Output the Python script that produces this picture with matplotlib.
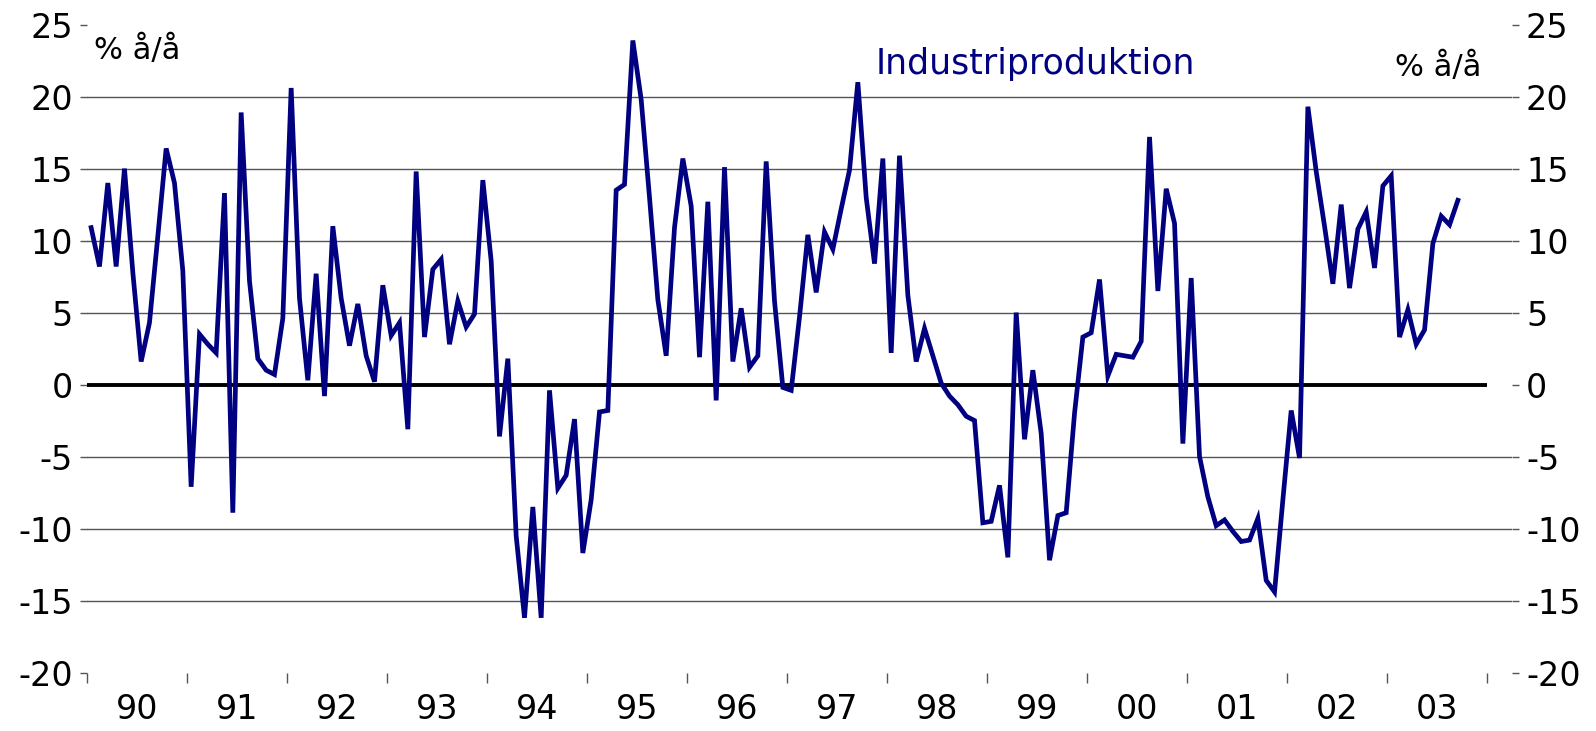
import numpy as np
import matplotlib
matplotlib.use("Agg")
import matplotlib.pyplot as plt

# industrial production, % y/y, monthly Jan 1990 - Sep 2003
prod = [
    10.9, 8.2, 14.0, 8.2, 15.0, 7.8, 1.6, 4.3, 10.3, 16.4, 14.0, 7.9,     # 90
    -7.1, 3.5, 2.8, 2.2, 13.3, -8.9, 18.9, 7.2, 1.8, 1.0, 0.7, 4.6,       # 91
    20.6, 6.0, 0.3, 7.7, -0.8, 11.0, 6.0, 2.7, 5.6, 2.0, 0.2, 6.9,        # 92
    3.4, 4.3, -3.1, 14.8, 3.3, 8.0, 8.7, 2.8, 5.8, 4.0, 4.9, 14.2,        # 93
    8.6, -3.6, 1.8, -10.5, -16.2, -8.5, -16.2, -0.4, -7.2, -6.3, -2.4, -11.7,  # 94
    -8.0, -1.9, -1.8, 13.5, 13.9, 23.9, 19.8, 13.0, 5.9, 2.0, 10.9, 15.7,  # 95
    12.4, 1.9, 12.7, -1.1, 15.1, 1.6, 5.3, 1.2, 2.0, 15.5, 5.8, -0.2,     # 96
    -0.4, 4.7, 10.4, 6.4, 10.6, 9.4, 12.2, 14.9, 21.0, 13.0, 8.4, 15.7,   # 97
    2.2, 15.9, 6.2, 1.6, 3.9, 2.0, 0.1, -0.8, -1.4, -2.2, -2.5, -9.6,     # 98
    -9.5, -7.0, -12.0, 5.0, -3.8, 1.0, -3.4, -12.2, -9.1, -8.9, -2.0, 3.3,  # 99
    3.6, 7.3, 0.6, 2.1, 2.0, 1.9, 3.0, 17.2, 6.5, 13.6, 11.2, -4.1,       # 00
    7.4, -5.0, -7.8, -9.8, -9.4, -10.2, -10.9, -10.8, -9.3, -13.6, -14.4, -8.0,  # 01
    -1.8, -5.1, 19.3, 14.8, 11.0, 7.0, 12.5, 6.7, 10.8, 12.0, 8.1, 13.8,  # 02
    14.5, 3.3, 5.2, 2.8, 3.8, 9.8, 11.7, 11.1, 12.8,                      # 03
]
years = ["90", "91", "92", "93", "94", "95", "96", "97",
         "98", "99", "00", "01", "02", "03"]
yticks = [-20, -15, -10, -5, 0, 5, 10, 15, 20, 25]

navy = "#000080"
plt.rcParams["font.family"] = ["DejaVu Sans"]

fig = plt.figure(figsize=(15.96, 7.31), dpi=100)
ax = fig.add_axes([0.0545, 0.080, 0.8929, 0.8863])

x = np.arange(len(prod)) + 0.5
n_months = 12 * len(years)

ax.hlines(0, 0, n_months, color="black", lw=2.8, zorder=2)
ax.plot(x, prod, color=navy, lw=3.4, solid_joinstyle="miter", zorder=3)

ax.set_xlim(0, 171.0)
ax.set_ylim(-20, 25)

# year ticks (marks) and centred year labels
ax.set_xticks(np.arange(0, n_months + 1, 12))
ax.set_xticklabels([])
ax.set_xticks(np.arange(6, n_months, 12), minor=True)
ax.set_xticklabels(years, minor=True)
ax.tick_params(axis="x", which="major", direction="out", length=7,
               width=1, color="#555555")
ax.tick_params(axis="x", which="minor", length=0, pad=15, labelsize=24)

ax.set_yticks(yticks)
ax.set_yticklabels([str(v) for v in yticks])
ax.tick_params(axis="y", direction="out", length=5, width=1, color="#555555",
               labelsize=24, left=True, right=True, labelleft=True,
               labelright=True, pad=5)

ax.grid(axis="y", color="#555555", lw=1.0, zorder=1)
gl = ax.get_ygridlines()
gl[0].set_visible(False)
gl[-1].set_visible(False)
gl[4].set_visible(False)

for s in ax.spines.values():
    s.set_visible(False)

fig.text(0.059, 0.932, "% å/å", fontsize=22, va="center", ha="left")
fig.text(0.901, 0.908, "% å/å", fontsize=22, va="center", ha="center")
fig.text(0.649, 0.912, "Industriproduktion", fontsize=25, color=navy,
         va="center", ha="center")

fig.savefig("out.png", dpi=100)
